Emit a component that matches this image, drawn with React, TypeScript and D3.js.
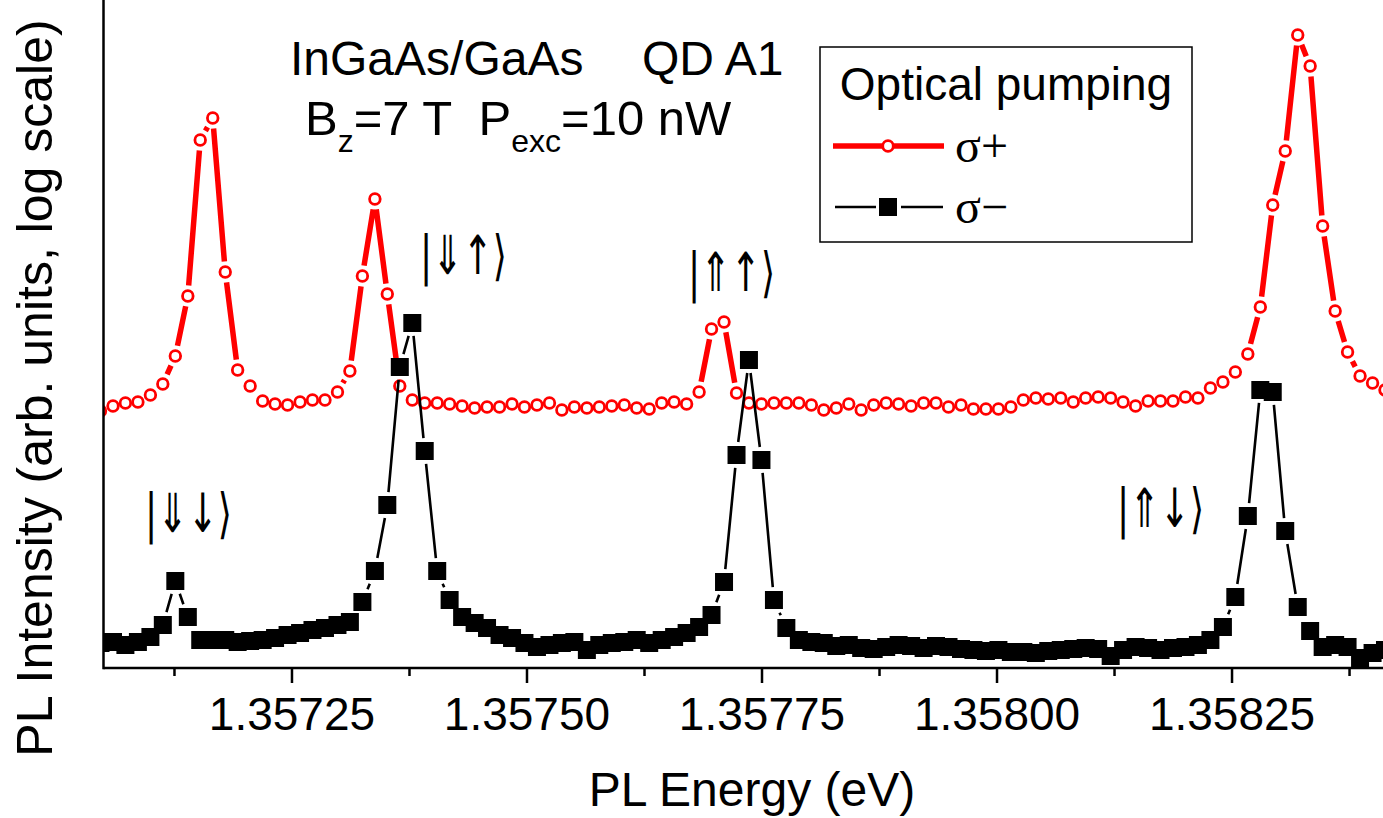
import React from 'react';
import * as d3 from 'd3';

// Photon energies (eV) of the spectrometer channels (shared by both spectra)
const energies = [
  1.3570463, 1.3570596, 1.3570728, 1.3570861, 1.3570994, 1.3571126, 1.3571259, 1.3571392, 1.3571524, 1.3571657,
  1.3571790, 1.3571922, 1.3572055, 1.3572188, 1.3572320, 1.3572453, 1.3572586, 1.3572718, 1.3572851, 1.3572984,
  1.3573116, 1.3573249, 1.3573382, 1.3573514, 1.3573647, 1.3573780, 1.3573912, 1.3574045, 1.3574177, 1.3574310,
  1.3574443, 1.3574575, 1.3574708, 1.3574841, 1.3574973, 1.3575106, 1.3575239, 1.3575371, 1.3575504, 1.3575637,
  1.3575769, 1.3575902, 1.3576035, 1.3576167, 1.3576300, 1.3576433, 1.3576565, 1.3576698, 1.3576831, 1.3576963,
  1.3577096, 1.3577229, 1.3577361, 1.3577494, 1.3577627, 1.3577759, 1.3577892, 1.3578025, 1.3578157, 1.3578290,
  1.3578423, 1.3578555, 1.3578688, 1.3578821, 1.3578953, 1.3579086, 1.3579219, 1.3579351, 1.3579484, 1.3579617,
  1.3579749, 1.3579882, 1.3580015, 1.3580147, 1.3580280, 1.3580413, 1.3580545, 1.3580678, 1.3580811, 1.3580943,
  1.3581076, 1.3581209, 1.3581341, 1.3581474, 1.3581607, 1.3581739, 1.3581872, 1.3582005, 1.3582137, 1.3582270,
  1.3582403, 1.3582535, 1.3582668, 1.3582801, 1.3582933, 1.3583066, 1.3583199, 1.3583331, 1.3583464, 1.3583597,
  1.3583729, 1.3583862, 1.3583995, 1.3584127,
];

// log10 PL intensity (arb. units), sigma+ pumping (red, offset upward)
const sigmaPlus = [
  1.285, 1.310, 1.325, 1.330, 1.365, 1.420, 1.560, 1.860, 2.640, 2.750,
  1.980, 1.490, 1.410, 1.335, 1.320, 1.315, 1.330, 1.340, 1.340, 1.380,
  1.485, 1.960, 2.345, 1.870, 1.410, 1.340, 1.325, 1.325, 1.320, 1.310,
  1.300, 1.305, 1.305, 1.320, 1.305, 1.315, 1.325, 1.290, 1.305, 1.300,
  1.305, 1.310, 1.315, 1.300, 1.295, 1.325, 1.330, 1.320, 1.380, 1.695,
  1.730, 1.375, 1.325, 1.320, 1.325, 1.325, 1.325, 1.315, 1.290, 1.300,
  1.320, 1.290, 1.315, 1.325, 1.320, 1.310, 1.325, 1.325, 1.305, 1.315,
  1.295, 1.295, 1.295, 1.305, 1.340, 1.350, 1.345, 1.350, 1.330, 1.350,
  1.355, 1.350, 1.330, 1.310, 1.335, 1.335, 1.335, 1.355, 1.350, 1.400,
  1.430, 1.480, 1.570, 1.805, 2.315, 2.585, 3.165, 3.010, 2.210, 1.785,
  1.580, 1.460, 1.425, 1.390,
];

// log10 PL intensity (arb. units), sigma- pumping (black)
const sigmaMinus = [
  0.125, 0.130, 0.115, 0.130, 0.155, 0.215, 0.435, 0.255, 0.140, 0.140,
  0.140, 0.130, 0.135, 0.140, 0.150, 0.165, 0.175, 0.190, 0.200, 0.215,
  0.230, 0.330, 0.485, 0.815, 1.505, 1.725, 1.085, 0.485, 0.340, 0.255,
  0.225, 0.200, 0.165, 0.150, 0.125, 0.105, 0.115, 0.125, 0.130, 0.090,
  0.115, 0.125, 0.130, 0.140, 0.125, 0.140, 0.155, 0.175, 0.205, 0.265,
  0.430, 1.065, 1.540, 1.040, 0.340, 0.200, 0.140, 0.130, 0.125, 0.110,
  0.115, 0.100, 0.095, 0.105, 0.115, 0.110, 0.100, 0.110, 0.105, 0.095,
  0.090, 0.085, 0.090, 0.080, 0.080, 0.075, 0.085, 0.090, 0.095, 0.100,
  0.095, 0.060, 0.090, 0.105, 0.100, 0.090, 0.100, 0.105, 0.115, 0.140,
  0.205, 0.355, 0.760, 1.390, 1.380, 0.685, 0.305, 0.185, 0.105, 0.115,
  0.105, 0.050, 0.075, 0.090,
];

const majorTicks = [1.35725, 1.3575, 1.35775, 1.358, 1.35825];
const majorTickLabels = ['1.35725', '1.35750', '1.35775', '1.35800', '1.35825'];
const minorTicks = [1.357125, 1.357375, 1.357625, 1.357875, 1.358125, 1.358375];

// State labels: [ket text, energy of left edge, log-intensity of baseline]
const stateLabels: [string, number, number][] = [
  ['|⇓↓⟩', 1.3570936, 0.68],
  ['|⇓↑⟩', 1.3573862, 1.97],
  ['|⇑↑⟩', 1.3576713, 1.885],
  ['|⇑↓⟩', 1.3581277, 0.705],
];

const W = 1383;
const H = 818;
const FONT = "'Liberation Sans', Arial, Helvetica, sans-serif";

const x = d3.scaleLinear().domain([1.3570495, 1.3584106]).range([103.5, 1383]);
const y = d3.scaleLinear().domain([0, 3.34]).range([668, 0]);

function gappedPath(pts: [number, number][], gap: (ux: number, uy: number) => number) {
  let d = '';
  for (let k = 0; k < pts.length - 1; k++) {
    const [x1, y1] = pts[k];
    const [x2, y2] = pts[k + 1];
    const dx = x2 - x1;
    const dy = y2 - y1;
    const L = Math.hypot(dx, dy);
    if (L === 0) continue;
    const ux = dx / L;
    const uy = dy / L;
    const g = gap(ux, uy);
    if (L <= 2 * g + 1) continue;
    d += `M${x1 + ux * g},${y1 + uy * g}L${x2 - ux * g},${y2 - uy * g}`;
  }
  return d;
}

export default function App() {
  const redPts: [number, number][] = energies.map((e, i) => [x(e), y(sigmaPlus[i])]);
  const blackPts: [number, number][] = energies.map((e, i) => [x(e), y(sigmaMinus[i])]);
  const SQ = 18;
  const redPath = gappedPath(redPts, () => 10.5);
  const blackPath = gappedPath(blackPts, (ux, uy) => SQ / 2 / Math.max(Math.abs(ux), Math.abs(uy)) + 4);
  const y0 = y(0);
  const [xMin, xMax] = x.range();

  return (
    <svg
      width={W}
      height={H}
      viewBox={`0 0 ${W} ${H}`}
      style={{ position: 'absolute', left: 0, top: 0, background: '#fff' }}
    >
      <defs>
        <clipPath id="plotClip">
          <rect x={xMin} y={0} width={xMax - xMin + 20} height={y0} />
        </clipPath>
      </defs>

      <g clipPath="url(#plotClip)">
        {/* sigma+ */}
        <path d={redPath} stroke="#ff0000" strokeWidth={5.5} fill="none" />
        {redPts.map(([px, py], i) => (
          <circle key={'r' + i} cx={px} cy={py} r={5.3} fill="#fff" stroke="#ff0000" strokeWidth={2.8} />
        ))}
        {/* sigma- */}
        <path d={blackPath} stroke="#000" strokeWidth={2.6} fill="none" />
        {blackPts.map(([px, py], i) => (
          <rect key={'b' + i} x={px - SQ / 2} y={py - SQ / 2} width={SQ} height={SQ} fill="#000" />
        ))}
      </g>

      {/* axes */}
      <line x1={xMin} x2={xMin} y1={0} y2={y0 + 1.25} stroke="#000" strokeWidth={2.5} />
      <line x1={xMin} x2={xMax} y1={y0} y2={y0} stroke="#000" strokeWidth={2.5} />
      {majorTicks.map((t, i) => (
        <g key={'M' + i}>
          <line x1={x(t)} x2={x(t)} y1={y0} y2={y0 + 15} stroke="#000" strokeWidth={2.5} />
          <text x={x(t)} y={730} textAnchor="middle" fontFamily={FONT} fontSize={46} fill="#000">
            {majorTickLabels[i]}
          </text>
        </g>
      ))}
      {minorTicks.map((t, i) => (
        <line key={'m' + i} x1={x(t)} x2={x(t)} y1={y0} y2={y0 + 8} stroke="#000" strokeWidth={2.5} />
      ))}

      {/* axis titles */}
      <text x={752} y={806} textAnchor="middle" fontFamily={FONT} fontSize={48} fill="#000">
        PL Energy (eV)
      </text>
      <text
        transform={`translate(52, 388) rotate(-90)`}
        textAnchor="middle"
        fontFamily={FONT}
        fontSize={50}
        fill="#000"
      >
        PL Intensity (arb. units, log scale)
      </text>

      {/* sample info */}
      <text x={290} y={75} fontFamily={FONT} fontSize={48} fill="#000">InGaAs/GaAs</text>
      <text x={642} y={75} fontFamily={FONT} fontSize={48} fill="#000">QD A1</text>
      <text x={305} y={135} fontFamily={FONT} fontSize={49} fill="#000" style={{ whiteSpace: 'pre' }}>
        <tspan>B</tspan>
        <tspan fontSize={32} dy={17}>z</tspan>
        <tspan dy={-17}>{'=7 T  P'}</tspan>
        <tspan fontSize={32} dy={17}>exc</tspan>
        <tspan dy={-17}>=10 nW</tspan>
      </text>

      {/* state labels */}
      {stateLabels.map(([s, e, v], i) => (
        <text
          key={'s' + i}
          x={x(e)}
          y={y(v)}
          fontFamily="'DejaVu Sans', sans-serif"
          fontSize={54}
          textLength={87}
          lengthAdjust="spacingAndGlyphs"
          fill="#000"
        >
          {s}
        </text>
      ))}

      {/* legend */}
      <rect x={820} y={47} width={372} height={195} fill="#fff" stroke="#000" strokeWidth={1.5} />
      <text x={1006} y={100} textAnchor="middle" fontFamily={FONT} fontSize={46} fill="#000">
        Optical pumping
      </text>
      <line x1={833} x2={944} y1={146} y2={146} stroke="#ff0000" strokeWidth={5.5} />
      <circle cx={888} cy={146} r={5.3} fill="#fff" stroke="#ff0000" strokeWidth={2.8} />
      <text x={955} y={162} fontFamily="'Liberation Serif', 'Times New Roman', serif" fontSize={48} fill="#000">σ+</text>
      <line x1={835} x2={876} y1={207} y2={207} stroke="#000" strokeWidth={2.6} />
      <line x1={901} x2={943} y1={207} y2={207} stroke="#000" strokeWidth={2.6} />
      <rect x={879} y={198} width={18} height={18} fill="#000" />
      <text x={955} y={223} fontFamily="'Liberation Serif', 'Times New Roman', serif" fontSize={48} fill="#000">σ−</text>
    </svg>
  );
}
